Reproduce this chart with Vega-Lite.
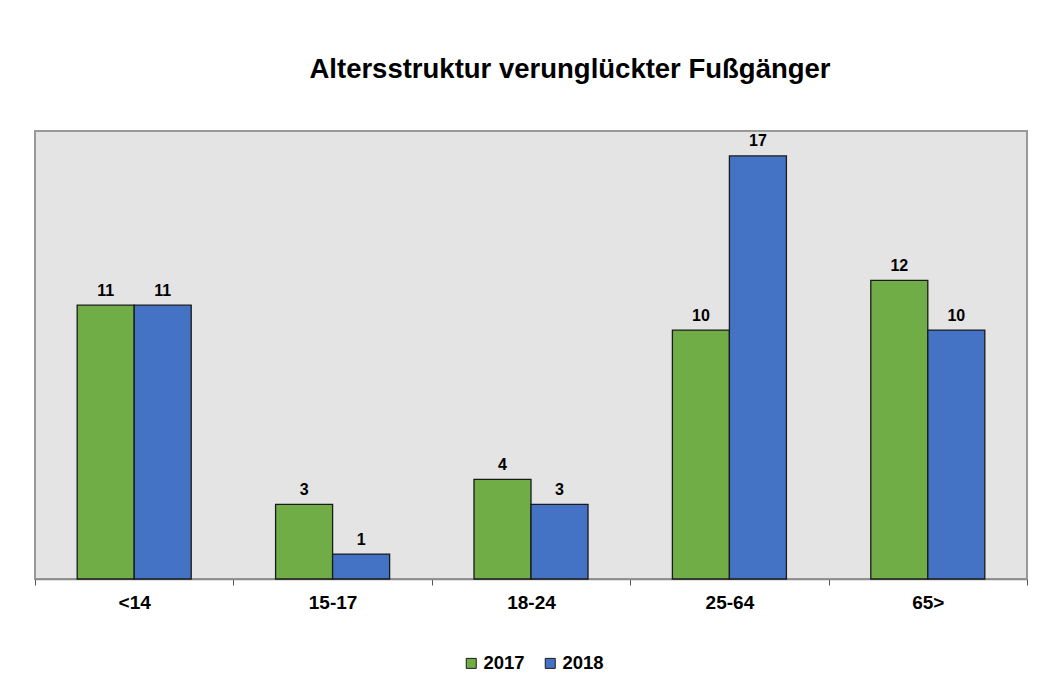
{
  "$schema": "https://vega.github.io/schema/vega-lite/v6.json",
  "autosize": {"type": "none"},
  "width": 992,
  "height": 448,
  "padding": {"left": 35, "top": 131, "right": 17, "bottom": 101},
  "background": "white",
  "title": {
    "text": "Altersstruktur verunglückter Fußgänger",
    "font": "Liberation Sans",
    "fontSize": 27.5,
    "fontWeight": "bold",
    "color": "#000000",
    "anchor": "middle",
    "baseline": "alphabetic",
    "offset": 26,
    "dx": 39
  },
  "data": {
    "values": [
      {"Alter": "<14", "Jahr": "2017", "Anzahl": 11},
      {"Alter": "<14", "Jahr": "2018", "Anzahl": 11},
      {"Alter": "15-17", "Jahr": "2017", "Anzahl": 3},
      {"Alter": "15-17", "Jahr": "2018", "Anzahl": 1},
      {"Alter": "18-24", "Jahr": "2017", "Anzahl": 4},
      {"Alter": "18-24", "Jahr": "2018", "Anzahl": 3},
      {"Alter": "25-64", "Jahr": "2017", "Anzahl": 10},
      {"Alter": "25-64", "Jahr": "2018", "Anzahl": 17},
      {"Alter": "65>", "Jahr": "2017", "Anzahl": 12},
      {"Alter": "65>", "Jahr": "2018", "Anzahl": 10}
    ]
  },
  "encoding": {
    "x": {
      "field": "Alter",
      "type": "nominal",
      "sort": ["<14", "15-17", "18-24", "25-64", "65>"],
      "scale": {"paddingInner": 0, "paddingOuter": 0},
      "axis": {
        "title": null,
        "tickBand": "extent",
        "labelAngle": 0,
        "labelFont": "Liberation Sans",
        "labelFontSize": 19,
        "labelFontWeight": "bold",
        "labelColor": "#000000",
        "labelPadding": 8,
        "tickSize": 6,
        "tickColor": "#555555",
        "tickWidth": 1,
        "domainColor": "#8c8c8c",
        "domainWidth": 1.5,
        "grid": false
      }
    },
    "xOffset": {
      "field": "Jahr",
      "type": "nominal",
      "sort": ["2017", "2018"],
      "scale": {"paddingInner": 0, "paddingOuter": 0.74}
    },
    "y": {
      "field": "Anzahl",
      "type": "quantitative",
      "scale": {"domain": [0, 18], "nice": false},
      "axis": null
    }
  },
  "layer": [
    {
      "mark": {"type": "bar", "stroke": "#1a1a1a", "strokeWidth": 1.3},
      "encoding": {
        "color": {
          "field": "Jahr",
          "type": "nominal",
          "scale": {"domain": ["2017", "2018"], "range": ["#70AD47", "#4472C4"]},
          "legend": {
            "title": null,
            "orient": "none",
            "direction": "horizontal",
            "legendX": 427,
            "legendY": 523,
            "symbolType": "square",
            "symbolSize": 100,
            "symbolStrokeColor": "#1a1a1a",
            "symbolStrokeWidth": 1,
            "symbolOpacity": 1,
            "labelFont": "Liberation Sans",
            "labelFontSize": 18.5,
            "labelFontWeight": "bold",
            "labelColor": "#000000",
            "labelOffset": 3,
            "columnPadding": 16
          }
        }
      }
    },
    {
      "mark": {
        "type": "text",
        "baseline": "alphabetic",
        "dy": -9.5,
        "font": "Liberation Sans",
        "fontSize": 16,
        "fontWeight": "bold",
        "color": "#000000"
      },
      "encoding": {
        "text": {"field": "Anzahl", "type": "quantitative"}
      }
    }
  ],
  "config": {
    "view": {"fill": "#e4e4e4", "stroke": "#999999", "strokeWidth": 2}
  }
}
